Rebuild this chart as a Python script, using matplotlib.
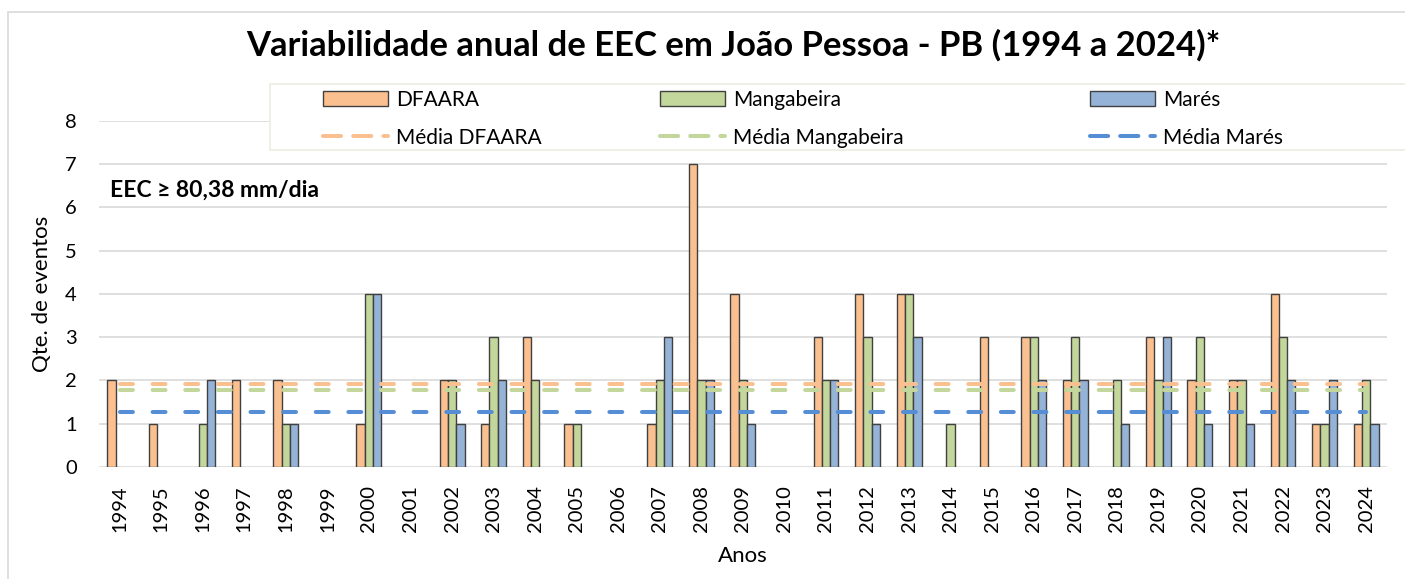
import matplotlib
matplotlib.use('Agg')
import matplotlib.pyplot as plt
from matplotlib.patches import Rectangle, Patch
from matplotlib.lines import Line2D
import numpy as np

plt.rcParams['font.family'] = ['Lato', 'DejaVu Sans']

anos = [str(a) for a in range(1994, 2025)]
dfaara = [2, 1, 0, 2, 2, 0, 1, 0, 2, 1, 3, 1, 0, 1, 7, 4, 0, 3, 4, 4, 0, 3, 3, 2, 0, 3, 2, 2, 4, 1, 1]
mangabeira = [0, 0, 1, 0, 1, 0, 4, 0, 2, 3, 2, 1, 0, 2, 2, 2, 0, 2, 3, 4, 1, 0, 3, 3, 2, 2, 3, 2, 3, 1, 2]
mares = [0, 0, 2, 0, 1, 0, 4, 0, 1, 2, 0, 0, 0, 3, 2, 1, 0, 2, 1, 3, 0, 0, 2, 2, 1, 3, 1, 1, 2, 2, 1]
# medias
media_dfaara = 1.91
media_mangabeira = 1.77
media_mares = 1.28

series = ['DFAARA', 'Mangabeira', 'Marés']
cores = ['#FAC090', '#C3D69B', '#95B3D7']
cores_media = ['#FAC090', '#C3D69B', '#558ED5']

W, H = 1405, 579
fig = plt.figure(figsize=(W / 100, H / 100), dpi=100)
ax = fig.add_axes([98.9 / W, 112 / H, 1288 / W, 346.4 / H])

x = np.arange(len(anos))
bw = 0.2
for i, (vals, c) in enumerate(zip([dfaara, mangabeira, mares], cores)):
    bars = ax.bar(x + (i - 1) * bw, vals, width=bw, color=c, edgecolor='#404040', linewidth=1.0, zorder=2)
    for b, v in zip(bars, vals):
        if v == 0:
            b.set_visible(False)  # excel nao desenha barra zero

medias = [media_dfaara, media_mangabeira, media_mares]
for m, c in zip(medias, cores_media):
    ax.plot([x[0], x[-1]], [m, m], color=c, linewidth=2.9, dashes=(3.2, 4.9),
            dash_capstyle='round', zorder=3)

ax.set_xlim(-0.5, len(anos) - 0.5)
ax.set_ylim(0, 8)
ax.set_yticks(range(0, 9))
ax.set_xticks(x)
ax.set_xticklabels(anos, rotation=90, fontsize=14.5)
ax.tick_params(axis='y', labelsize=14.5, length=0, pad=16)
ax.tick_params(axis='x', length=0, pad=13)
ax.grid(axis='y', color='#D9D9D9', linewidth=1.2, zorder=0)
ax.set_axisbelow(True)
for s in ax.spines.values():
    s.set_visible(False)

ax.set_ylabel('Qte. de eventos', fontsize=16, labelpad=9)
ax.set_xlabel('Anos', fontsize=16, labelpad=10)
ax.text((110 - 98.9) / 1288, (467 - 190) / 346.4, 'EEC ≥ 80,38 mm/dia',
        transform=ax.transAxes, fontsize=16.5, fontweight='bold', va='center', ha='left')

fig.text(733 / W, 1 - 45 / H, 'Variabilidade anual de EEC em João Pessoa - PB (1994 a 2024)*',
         fontsize=24.9, fontweight='bold', ha='center', va='center')

# borda do grafico
fig.patches.append(Rectangle((8 / W, -0.1), 1.2, 1 - 12 / H + 0.1, transform=fig.transFigure,
                             fill=False, edgecolor='#D9D9D9', linewidth=1.2, zorder=0))
# caixa da legenda
fig.patches.append(Rectangle((270 / W, 1 - 150 / H), 1.2, 66 / H, transform=fig.transFigure,
                             facecolor='white', edgecolor='#EEECE1', linewidth=1.2, zorder=4))

col_x = [323, 660, 1090]
for nome, c, cm, cx in zip(series, cores, cores_media, col_x):
    hs = [Patch(facecolor=c, edgecolor='#404040', linewidth=1.0),
          Line2D([], [], color=cm, linewidth=2.9, dashes=(4.5, 3.0), dash_capstyle='round')]
    leg = fig.legend(hs, [nome, 'Média ' + nome], loc='upper left',
                     bbox_to_anchor=(cx / W, 1 - 90 / H), frameon=False, fontsize=15,
                     borderpad=0, borderaxespad=0, handlelength=3.1, handletextpad=0.4,
                     labelspacing=0.85)
    leg.set_zorder(5)

fig.savefig('out.png', dpi=100)
